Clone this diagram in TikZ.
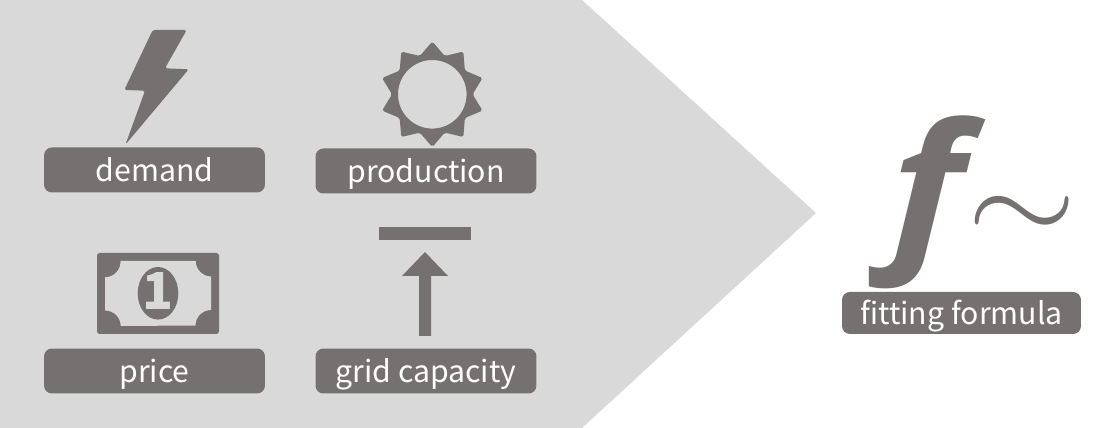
\documentclass[tikz,border=0pt]{standalone}
\usepackage{fontspec}
\setmainfont{Noto Sans CJK SC}
\newfontfamily\bigf{Open Sans}
\usepackage{amsmath,amssymb}
\usepackage{tikz}
\usepackage{xcolor}
\definecolor{boxgray}{HTML}{767171}
\definecolor{backgray}{HTML}{D9D9D9}
\tikzset{
  labelbox/.style={fill=boxgray,text=white,rounded corners=4.5pt,minimum width=4.42cm,minimum height=0.9cm,inner sep=0pt,text height=0.46cm,text depth=0cm,font=\fontsize{17.2}{20}\selectfont},
  icon/.style={fill=boxgray,rounded corners=1pt}
}
\begin{document}
\begin{tikzpicture}[x=0.02cm,y=-0.02cm]
  \useasboundingbox (0,0) rectangle (1096,428);
  \fill[backgray] (0,0) -- (582,0) -- (816,213) -- (582,428) -- (0,428) -- cycle;
  % formula
  \node[text=boxgray,inner sep=0pt,xscale=1.15,font=\bigf\bfseries\itshape\fontsize{98}{98}\selectfont] (fname) at (927,202) {f};
  \node[text=boxgray,inner sep=0pt,xscale=8,yscale=7] (tilde) at (1022,219) {$\sim$};
  \node[labelbox] (demand) at (154.5,170) {demand};
  \node[labelbox] (production) at (426,171) {production};
  \node[labelbox] (price) at (154.5,371) {price};
  \node[labelbox] (capacity) at (426,371) {grid capacity};
  \node[labelbox,minimum width=4.78cm,minimum height=0.84cm] (formula) at (961.5,313) {fitting formula};
  % bolt
  \fill[icon] (152.7,30) -- (186.7,30) -- (165,68.3) -- (188.7,69.3) -- (125.5,144.5) -- (145,90.7) -- (124.3,90) -- cycle;
  % sun
  \begin{scope}[shift={(432.3,94.3)}]
    \fill[icon,even odd rule] (90:52.8) \foreach \a in {90,126,...,414} {-- (\a+18:40.3) -- (\a+36:52.8)} -- cycle (0,0) circle (34.3);
  \end{scope}
  % banknote
  \fill[boxgray,rounded corners=1.5pt] (97,253) rectangle (219,334);
  \fill[backgray] (120.7,261) -- (195.7,261) arc (180:90:15.5) -- (211,310) arc (270:180:15.5) -- (120.7,326) arc (0:-90:15.5) -- (105,277.3) arc (90:0:15.5) -- cycle;
  \fill[boxgray] (158,293.3) ellipse (20.3 and 26.3);
  \node[text=backgray,inner sep=0pt,scale=2.9] (one) at (158,291.5) {$\mathbf{1}$};
  % bar and arrow
  \fill[boxgray] (379,227) rectangle (471,240);
  \fill[boxgray] (425,252) -- (448,276) -- (431,276) -- (431,336) -- (419,336) -- (419,276) -- (402,276) -- cycle;
\end{tikzpicture}
\end{document}
